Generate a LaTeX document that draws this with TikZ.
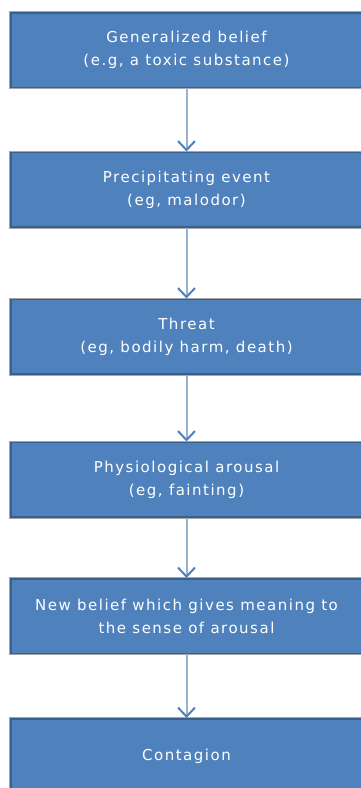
\documentclass[tikz,border=0pt]{standalone}
\usepackage{fontspec}
\setmainfont{DejaVu Sans}[LetterSpace=10]
\usetikzlibrary{arrows.meta}
\definecolor{boxfill}{HTML}{4F81BD}
\definecolor{boxline}{HTML}{3A5F8C}
\definecolor{shaft}{HTML}{98B2D2}
\tikzset{
  stepbox/.style={draw=boxline, fill=boxfill, line width=1.5pt,
    minimum width=351.5pt, minimum height=74.5pt, inner sep=0pt,
    text=white, align=center, font=\fontsize{15}{23}\selectfont,
    preaction={draw=black!35, line width=3.5pt}},
  flow/.style={draw=shaft, line width=2pt,
    -{Straight Barb[color=boxfill, length=9pt, width=17pt, line width=2pt]}}
}

\begin{document}
\begin{tikzpicture}[x=1pt, y=-1pt]
                \useasboundingbox (0, 0) rectangle (361, 788);
                \clip (0, 0) rectangle (361, 788);
                \node[stepbox] (belief) at (186.5, 50) {Generalized belief\\(e.g, a toxic substance)};
                \node[stepbox] (event) at (186.5, 189.5) {Precipitating event\\(eg, malodor)};
                \node[stepbox] (threat) at (186.5, 336.5) {Threat\\(eg, bodily harm, death)};
                \node[stepbox] (arousal) at (186.5, 479.5) {Physiological arousal\\(eg, fainting)};
                \node[stepbox] (meaning) at (186.5, 616) {New belief which gives meaning to\\the sense of arousal};
                \node[stepbox] (contagion) at (186.5, 756) {Contagion};
                \draw[flow] (belief) -- (event);
                \draw[flow] (event) -- (threat);
                \draw[flow] (threat) -- (arousal);
                \draw[flow] (arousal) -- (meaning);
                \draw[flow] (meaning) -- (contagion);
            \end{tikzpicture}
\end{document}
